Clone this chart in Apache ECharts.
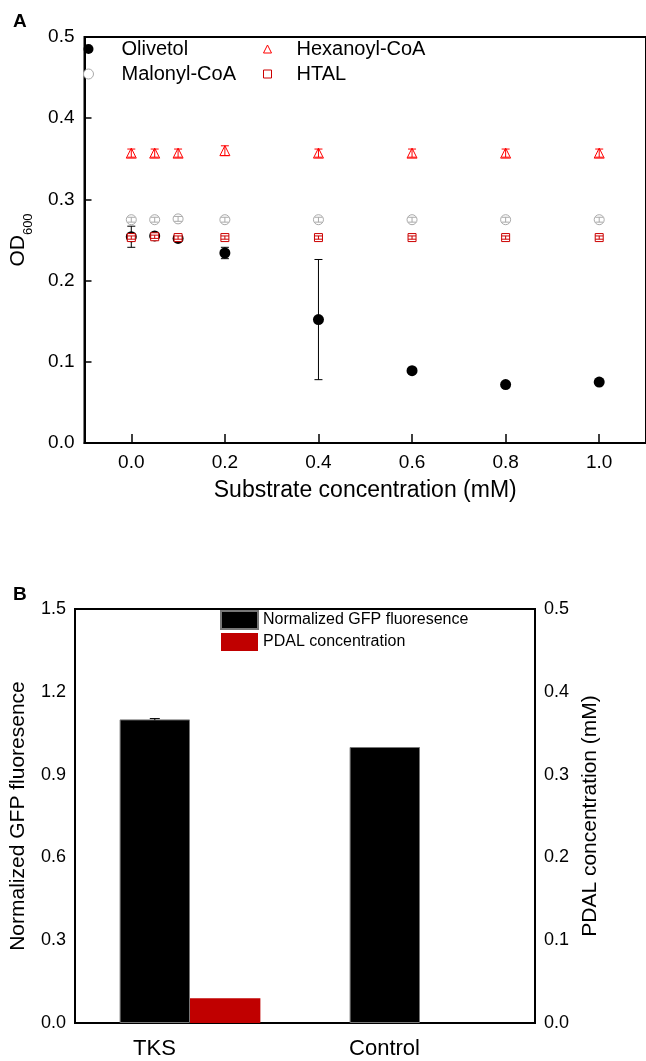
<!DOCTYPE html>
<html>
<head>
<meta charset="utf-8">
<script src="https://cdn.jsdelivr.net/npm/echarts@6/dist/echarts.min.js"></script>
<style>
  html, body { margin: 0; padding: 0; background: #fff; }
  #chart { width: 646px; height: 1061px; }
</style>
</head>
<body>
<div id="chart"></div>
<script>
(function () {
    var dom = document.getElementById("chart");
    var myChart = echarts.init(dom);

    // ---- panel A data
    var xConc = [0, 0.05, 0.1, 0.2, 0.4, 0.6, 0.8, 1.0];
    var xTicks = [0, 0.2, 0.4, 0.6, 0.8, 1.0];
    var olivetol = [0.254, 0.255, 0.252, 0.234, 0.152, 0.089, 0.072, 0.075];
    var olivetolErr = [0.013, 0.002, 0.002, 0.007, 0.074, 0, 0, 0];
    var malonyl = [0.275, 0.275, 0.276, 0.275, 0.275, 0.275, 0.275, 0.275];
    var malonylErr = [0.003, 0.003, 0.003, 0.003, 0.003, 0.003, 0.003, 0.003];
    var hexanoyl = [0.357, 0.357, 0.357, 0.360, 0.357, 0.357, 0.357, 0.357];
    var hexanoylErr = [0.005, 0.005, 0.005, 0.006, 0.005, 0.005, 0.005, 0.005];
    var htal = [0.253, 0.254, 0.253, 0.253, 0.253, 0.253, 0.253, 0.253];
    var htalErr = [0.002, 0.002, 0.002, 0.002, 0.002, 0.002, 0.002, 0.002];

    // ---- panel B data
    var groups = ['TKS', 'Control'];
    var gfp = [1.10, 1.00];
    var gfpErr = [0.003, 0];
    var pdal = [0.03, 0];

    var font = 'Liberation Sans, Arial, sans-serif';

    function pairs(xs, ys, es) {
        return xs.map(function (x, i) { return es ? [x, ys[i], es[i]] : [x, ys[i]]; });
    }

    // 误差棒
    function errBars(vals, errs, color, z) {
        return {
            type: 'custom',
            xAxisIndex: 0,
            yAxisIndex: 0,
            z: z,
            silent: true,
            data: pairs(xConc, vals, errs),
            renderItem: function (params, api) {
                var x = api.value(0), y = api.value(1), e = api.value(2);
                if (!e) return;
                var hi = api.coord([x, y + e]);
                var lo = api.coord([x, y - e]);
                var hw = 4;
                var st = { stroke: color, lineWidth: 1 };
                return {
                    type: 'group',
                    children: [
                        { type: 'line', shape: { x1: hi[0], y1: hi[1], x2: lo[0], y2: lo[1] }, style: st },
                        { type: 'line', shape: { x1: hi[0] - hw, y1: hi[1], x2: hi[0] + hw, y2: hi[1] }, style: st },
                        { type: 'line', shape: { x1: lo[0] - hw, y1: lo[1], x2: lo[0] + hw, y2: lo[1] }, style: st }
                    ]
                };
            }
        };
    }

    var axisLab = { color: '#000', fontFamily: font };

    var option = {
        animation: false,
        backgroundColor: '#fff',
        title: [
            { text: 'A', left: 13, top: 12, padding: 0, textStyle: { fontSize: 19, fontWeight: 'bold', color: '#000', fontFamily: font } },
            { text: 'B', left: 13, top: 585, padding: 0, textStyle: { fontSize: 19, fontWeight: 'bold', color: '#000', fontFamily: font } }
        ],
        legend: [
            {
                orient: 'vertical',
                left: 83, top: 37, padding: 0, itemGap: 1,
                itemWidth: 10, itemHeight: 10,
                itemStyle: { borderWidth: 1 },
                data: ['Olivetol', 'Malonyl-CoA'],
                textStyle: { fontSize: 20, lineHeight: 24, color: '#000', fontFamily: font, padding: [0, 0, 0, 23] }
            },
            {
                orient: 'vertical',
                left: 263, top: 37, padding: 0, itemGap: 1,
                itemWidth: 8, itemHeight: 8,
                itemStyle: { borderWidth: 1 },
                data: ['Hexanoyl-CoA', 'HTAL'],
                textStyle: { fontSize: 20, lineHeight: 24, color: '#000', fontFamily: font, padding: [0, 0, 0, 20] }
            },
            {
                orient: 'vertical',
                left: 220, top: 610, padding: 0, itemGap: 3,
                itemWidth: 37, itemHeight: 18, icon: 'rect',
                data: ['Normalized GFP fluoresence', 'PDAL concentration'],
                textStyle: { fontSize: 16, lineHeight: 18, color: '#000', fontFamily: font }
            }
        ],
        grid: [
            { left: 81, top: 37, right: -9, bottom: 618, show: true, borderColor: '#000', borderWidth: 2 },
            { left: 71, top: 609, right: 111, bottom: 38, show: true, borderColor: '#000', borderWidth: 2 }
        ],
        xAxis: [
            {
                type: 'value', gridIndex: 0, min: -0.1, max: 1.1,
                name: 'Substrate concentration (mM)', nameLocation: 'middle', nameGap: 36,
                nameTextStyle: { fontSize: 23, color: '#000', fontFamily: font },
                axisLine: { onZero: false, lineStyle: { color: '#000', width: 2 } },
                axisTick: { inside: true, length: 9, customValues: xTicks, lineStyle: { color: '#000', width: 1.5 } },
                axisLabel: Object.assign({ fontSize: 19, margin: 10, customValues: xTicks,
                    formatter: function (v) { return v.toFixed(1); } }, axisLab),
                splitLine: { show: false }
            },
            {
                type: 'category', gridIndex: 1, data: groups,
                axisLine: { onZero: false, lineStyle: { color: '#000', width: 2 } },
                axisTick: { inside: true, length: 9, lineStyle: { color: '#000', width: 1.5 } },
                axisLabel: Object.assign({ fontSize: 22, margin: 15, padding: [0, 71, 0, 0] }, axisLab)
            }
        ],
        yAxis: [
            {
                type: 'value', gridIndex: 0, min: 0, max: 0.5, interval: 0.1,
                name: '{a|OD}{b|600}', nameLocation: 'middle', nameGap: 50, nameRotate: 90,
                nameTextStyle: {
                    color: '#000', fontFamily: font,
                    rich: {
                        a: { fontSize: 21, color: '#000', fontFamily: font },
                        b: { fontSize: 13, color: '#000', fontFamily: font, lineHeight: 32, verticalAlign: 'bottom' }
                    }
                },
                axisLine: { onZero: false, lineStyle: { color: '#000', width: 2 } },
                axisTick: { inside: true, length: 7, lineStyle: { color: '#000', width: 1.5 } },
                axisLabel: Object.assign({ fontSize: 19, margin: 10, formatter: function (v) { return v.toFixed(1); } }, axisLab),
                splitLine: { show: false }
            },
            {
                type: 'value', gridIndex: 1, position: 'left', min: 0, max: 1.5, interval: 0.3,
                name: 'Normalized GFP fluoresence', nameLocation: 'middle', nameGap: 46, nameRotate: 90,
                nameTextStyle: { fontSize: 21, color: '#000', fontFamily: font },
                axisLine: { onZero: false, lineStyle: { color: '#000', width: 2 } },
                axisTick: { inside: true, length: 7, lineStyle: { color: '#000', width: 1.5 } },
                axisLabel: Object.assign({ fontSize: 18, margin: 9, formatter: function (v) { return v.toFixed(1); } }, axisLab),
                splitLine: { show: false }
            },
            {
                type: 'value', gridIndex: 1, position: 'right', min: 0, max: 0.5, interval: 0.1,
                name: 'PDAL concentration (mM)', nameLocation: 'middle', nameGap: 45, nameRotate: 90,
                nameTextStyle: { fontSize: 21, color: '#000', fontFamily: font },
                axisLine: { onZero: false, lineStyle: { color: '#000', width: 2 } },
                axisTick: { inside: true, length: 7, lineStyle: { color: '#000', width: 1.5 } },
                axisLabel: Object.assign({ fontSize: 18, margin: 9, formatter: function (v) { return v.toFixed(1); } }, axisLab),
                splitLine: { show: false }
            }
        ],
        series: [
            errBars(olivetol, olivetolErr, '#000', 2),
            {
                name: 'Olivetol', type: 'scatter', xAxisIndex: 0, yAxisIndex: 0, z: 3,
                symbol: 'circle', symbolSize: 11,
                itemStyle: { color: '#000', opacity: 1 },
                data: pairs(xConc, olivetol)
            },
            {
                name: 'Malonyl-CoA', type: 'scatter', xAxisIndex: 0, yAxisIndex: 0, z: 4,
                symbol: 'circle', symbolSize: 10,
                itemStyle: { color: '#fff', borderColor: '#aaa', borderWidth: 1, opacity: 1 },
                data: pairs(xConc, malonyl)
            },
            errBars(malonyl, malonylErr, '#aaa', 5),
            {
                name: 'Hexanoyl-CoA', type: 'scatter', xAxisIndex: 0, yAxisIndex: 0, z: 4,
                symbol: 'triangle', symbolSize: 10,
                itemStyle: { color: '#fff', borderColor: '#ff0000', borderWidth: 1, opacity: 1 },
                data: pairs(xConc, hexanoyl)
            },
            errBars(hexanoyl, hexanoylErr, '#ff0000', 5),
            {
                name: 'HTAL', type: 'scatter', xAxisIndex: 0, yAxisIndex: 0, z: 6,
                symbol: 'rect', symbolSize: 8,
                itemStyle: { color: '#fff', borderColor: '#cc0000', borderWidth: 1, opacity: 1 },
                data: pairs(xConc, htal)
            },
            errBars(htal, htalErr, '#cc0000', 7),
            {
                name: 'Normalized GFP fluoresence', type: 'bar', xAxisIndex: 1, yAxisIndex: 1,
                barWidth: '30.6%', barGap: '0%',
                itemStyle: { color: '#000', borderColor: '#777', borderWidth: 1 },
                data: gfp
            },
            {
                name: 'PDAL concentration', type: 'bar', xAxisIndex: 1, yAxisIndex: 2,
                barWidth: '30.6%', barGap: '0%',
                itemStyle: { color: '#c00000' },
                data: pdal
            },
            {
                type: 'custom', xAxisIndex: 1, yAxisIndex: 1, z: 5, silent: true,
                data: groups.map(function (g, i) { return [i, gfp[i], gfpErr[i]]; }),
                renderItem: function (params, api) {
                    var e = api.value(2);
                    if (!e) return;
                    var band = api.size([1, 0])[0];
                    var hi = api.coord([api.value(0), api.value(1) + e]);
                    var lo = api.coord([api.value(0), api.value(1) - e]);
                    var cx = hi[0] - band * 0.153;
                    var st = { stroke: '#000', lineWidth: 1 };
                    return {
                        type: 'group',
                        children: [
                            { type: 'line', shape: { x1: cx, y1: hi[1], x2: cx, y2: lo[1] }, style: st },
                            { type: 'line', shape: { x1: cx - 5, y1: hi[1], x2: cx + 5, y2: hi[1] }, style: st }
                        ]
                    };
                }
            }
        ]
    };

    if (option && typeof option === 'object') {
        myChart.setOption(option);
    }

    window.addEventListener("resize", function () {
        myChart.resize();
    });
})();
</script>
</body>
</html>
